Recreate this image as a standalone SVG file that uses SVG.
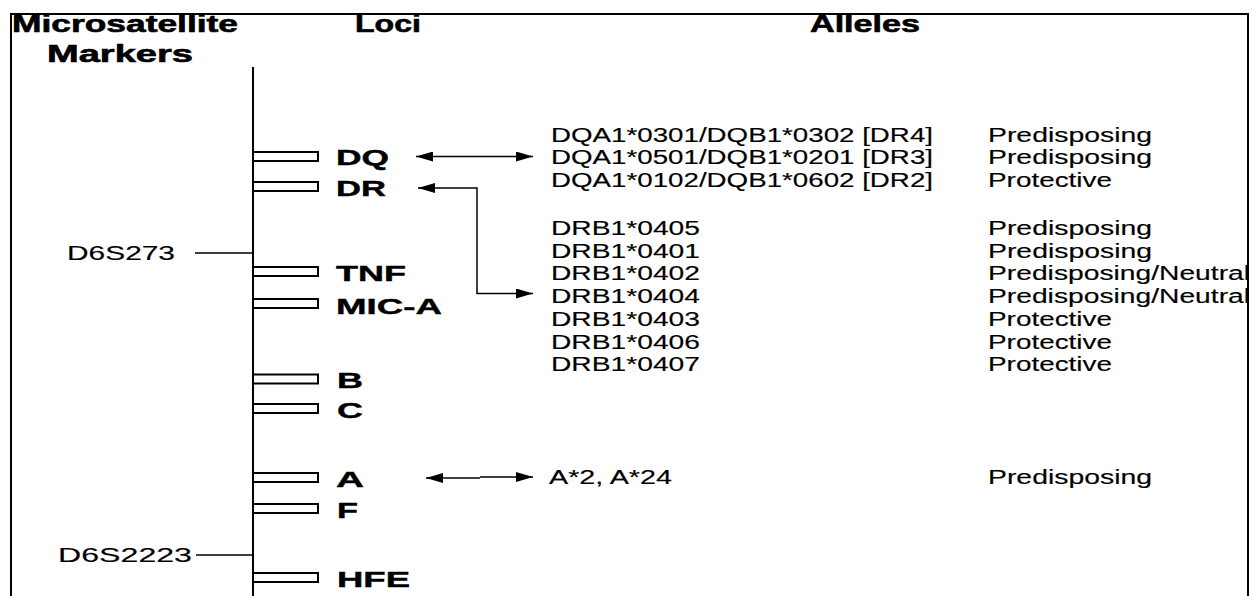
<svg xmlns="http://www.w3.org/2000/svg" width="1256" height="596" viewBox="0 0 1256 596">
<style>
text { font-family: "Liberation Sans", Arial, sans-serif; fill: #000; }
.h { font-weight: bold; font-size: 24px; stroke: #000; stroke-width: 0.6; }
.loc { font-weight: bold; font-size: 22px; stroke: #000; stroke-width: 0.4; }
.t { font-size: 20px; stroke: #000; stroke-width: 0.15; }
.bar { fill: #fff; stroke: #000; stroke-width: 2; }
.ln { stroke: #000; stroke-width: 2; fill: none; }
.arr { stroke: #000; stroke-width: 1.5; fill: none; }
</style>
<defs>
<marker id="ah" viewBox="0 0 17 10" refX="17" refY="5" markerWidth="17" markerHeight="10" markerUnits="userSpaceOnUse" orient="auto-start-reverse">
<path d="M0,0 L17,5 L0,10 z" fill="#000"/>
</marker>
</defs>
<rect width="1256" height="596" fill="#fff"/>

<g id="frame">
<path class="ln" d="M11,596 V14 H1248 V596"/>
</g>

<g id="headers">
<text class="h" x="12" y="32" textLength="226" lengthAdjust="spacingAndGlyphs">Microsatellite</text>
<text class="h" x="47" y="62" textLength="146" lengthAdjust="spacingAndGlyphs">Markers</text>
<text class="h" x="355" y="32" textLength="66" lengthAdjust="spacingAndGlyphs">Loci</text>
<text class="h" x="810" y="32" textLength="110" lengthAdjust="spacingAndGlyphs">Alleles</text>
</g>

<g id="chromosome">
<line class="ln" x1="253" y1="67" x2="253" y2="596"/>
</g>

<g id="marker-D6S273">
<text class="t" x="67" y="260" textLength="108" lengthAdjust="spacingAndGlyphs">D6S273</text>
<line x1="195" y1="253" x2="253" y2="253" stroke="#000" stroke-width="1.5"/>
</g>
<g id="marker-D6S2223">
<text class="t" x="58" y="562" textLength="134" lengthAdjust="spacingAndGlyphs">D6S2223</text>
<line x1="196" y1="555" x2="253" y2="555" stroke="#000" stroke-width="1.5"/>
</g>

<g id="locus-DQ"><rect class="bar" x="253" y="152" width="65" height="9"/><text class="loc" x="336" y="165" textLength="53" lengthAdjust="spacingAndGlyphs">DQ</text></g>
<g id="locus-DR"><rect class="bar" x="253" y="182" width="65" height="9"/><text class="loc" x="336" y="196" textLength="50" lengthAdjust="spacingAndGlyphs">DR</text></g>
<g id="locus-TNF"><rect class="bar" x="253" y="267" width="65" height="9"/><text class="loc" x="336" y="281" textLength="70" lengthAdjust="spacingAndGlyphs">TNF</text></g>
<g id="locus-MIC-A"><rect class="bar" x="253" y="299" width="65" height="9"/><text class="loc" x="336" y="314" textLength="106" lengthAdjust="spacingAndGlyphs">MIC-A</text></g>
<g id="locus-B"><rect class="bar" x="253" y="374.5" width="65" height="9"/><text class="loc" x="337" y="388" textLength="26" lengthAdjust="spacingAndGlyphs">B</text></g>
<g id="locus-C"><rect class="bar" x="253" y="404" width="65" height="9"/><text class="loc" x="337" y="418" textLength="26" lengthAdjust="spacingAndGlyphs">C</text></g>
<g id="locus-A"><rect class="bar" x="253" y="473" width="65" height="9"/><text class="loc" x="336" y="487" textLength="28" lengthAdjust="spacingAndGlyphs">A</text></g>
<g id="locus-F"><rect class="bar" x="253" y="504" width="65" height="9"/><text class="loc" x="337" y="518" textLength="21" lengthAdjust="spacingAndGlyphs">F</text></g>
<g id="locus-HFE"><rect class="bar" x="253" y="573" width="65" height="9"/><text class="loc" x="337" y="587" textLength="73" lengthAdjust="spacingAndGlyphs">HFE</text></g>

<g id="alleles-DQ">
<text class="t" x="551" y="141.5" textLength="382" lengthAdjust="spacingAndGlyphs">DQA1*0301/DQB1*0302 [DR4]</text>
<text class="t" x="551" y="164.2" textLength="382" lengthAdjust="spacingAndGlyphs">DQA1*0501/DQB1*0201 [DR3]</text>
<text class="t" x="551" y="187" textLength="382" lengthAdjust="spacingAndGlyphs">DQA1*0102/DQB1*0602 [DR2]</text>
<text class="t" x="988" y="141.5" textLength="164" lengthAdjust="spacingAndGlyphs">Predisposing</text>
<text class="t" x="988" y="164.2" textLength="164" lengthAdjust="spacingAndGlyphs">Predisposing</text>
<text class="t" x="988" y="187" textLength="124" lengthAdjust="spacingAndGlyphs">Protective</text>
</g>

<g id="alleles-DR">
<text class="t" x="551" y="235" textLength="149" lengthAdjust="spacingAndGlyphs">DRB1*0405</text>
<text class="t" x="551" y="257.7" textLength="149" lengthAdjust="spacingAndGlyphs">DRB1*0401</text>
<text class="t" x="551" y="280.4" textLength="149" lengthAdjust="spacingAndGlyphs">DRB1*0402</text>
<text class="t" x="551" y="303.1" textLength="149" lengthAdjust="spacingAndGlyphs">DRB1*0404</text>
<text class="t" x="551" y="325.8" textLength="149" lengthAdjust="spacingAndGlyphs">DRB1*0403</text>
<text class="t" x="551" y="348.5" textLength="149" lengthAdjust="spacingAndGlyphs">DRB1*0406</text>
<text class="t" x="551" y="371.2" textLength="149" lengthAdjust="spacingAndGlyphs">DRB1*0407</text>
<text class="t" x="988" y="235" textLength="164" lengthAdjust="spacingAndGlyphs">Predisposing</text>
<text class="t" x="988" y="257.7" textLength="164" lengthAdjust="spacingAndGlyphs">Predisposing</text>
<text class="t" x="988" y="280.4" textLength="262" lengthAdjust="spacingAndGlyphs">Predisposing/Neutral</text>
<text class="t" x="988" y="303.1" textLength="262" lengthAdjust="spacingAndGlyphs">Predisposing/Neutral</text>
<text class="t" x="988" y="325.8" textLength="124" lengthAdjust="spacingAndGlyphs">Protective</text>
<text class="t" x="988" y="348.5" textLength="124" lengthAdjust="spacingAndGlyphs">Protective</text>
<text class="t" x="988" y="371.2" textLength="124" lengthAdjust="spacingAndGlyphs">Protective</text>
</g>

<g id="alleles-A">
<text class="t" x="549" y="484" textLength="123" lengthAdjust="spacingAndGlyphs">A*2, A*24</text>
<text class="t" x="988" y="484" textLength="164" lengthAdjust="spacingAndGlyphs">Predisposing</text>
</g>

<g id="connectors">
<line class="arr" x1="416" y1="156.5" x2="533" y2="156.5" marker-start="url(#ah)" marker-end="url(#ah)"/>
<polyline class="arr" points="418,188 477,188 477,293.5 533,293.5" marker-start="url(#ah)" marker-end="url(#ah)"/>
<line class="arr" x1="426" y1="478" x2="480" y2="478" marker-start="url(#ah)"/>
<line class="arr" x1="480" y1="477" x2="533" y2="477" stroke-width="2" marker-end="url(#ah)"/>
</g>
<rect x="1249" y="0" width="7" height="596" fill="#fff"/>
</svg>
